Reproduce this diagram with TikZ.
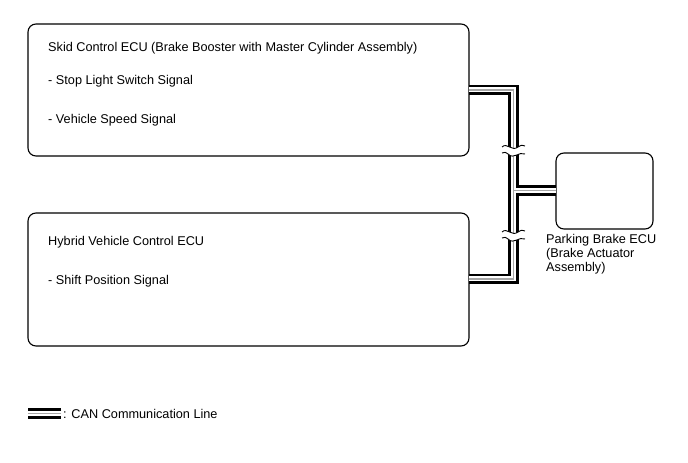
\documentclass[tikz,border=0pt]{standalone}
\usepackage{fontspec}
\setmainfont{Liberation Sans}
\begin{document}
\begin{tikzpicture}[x=1bp,y=-1bp,
  ecubox/.style={draw=black,line width=1.1bp,rounded corners=8bp},
  lbl/.style={anchor=west,inner sep=0,font=\fontsize{12.7bp}{14bp}\selectfont},
  canblack/.style={draw=black,line width=10.5bp},
  canwhite/.style={draw=white,line width=5bp},
  cangray/.style={draw=gray!70,line width=1.6bp}]
\useasboundingbox (0,0) rectangle (688,463);
% boxes
\draw[ecubox] (28,24) rectangle (469,156);
\draw[ecubox] (28,213) rectangle (469,346);
\draw[ecubox] (556,153) rectangle (653,229);
\coordinate (a) at (469,90);
\coordinate (b) at (513.3,90);
\coordinate (c) at (513.3,279);
\coordinate (d) at (469,279);
\coordinate (j) at (513.3,190.7);
\coordinate (p) at (556,190.7);
% CAN bundle in three layers
\foreach \s in {canblack,canwhite,cangray}{
  \draw[\s] (a) -- (b) -- (c) -- (d);
  \draw[\s] (j) -- (p);
}
% break marks
\foreach \y in {150,235}{
  \fill[white] (502,\y-3) .. controls (507,\y-8) and (512,\y+2) .. (518,\y-3) .. controls (521,\y-5) .. (525,\y-4)
     -- (525,\y+4) .. controls (519,\y+1) and (514,\y+10) .. (508,\y+4) .. controls (505,\y+2) .. (502,\y+3) -- cycle;
  \draw[line width=0.9bp] (502,\y-3) .. controls (507,\y-8) and (512,\y+2) .. (518,\y-3) .. controls (521,\y-5) .. (525,\y-4);
  \draw[line width=0.9bp] (502,\y+3) .. controls (505,\y+2) .. (508,\y+4) .. controls (514,\y+10) and (519,\y+1) .. (525,\y+4);
}
% texts
\node[lbl] (t1) at (48,48.5) {Skid Control ECU (Brake Booster with Master Cylinder Assembly)};
\node[lbl] (t2) at (48,81.5) {- Stop Light Switch Signal};
\node[lbl] (t3) at (48,120.5) {- Vehicle Speed Signal};
\node[lbl] (t4) at (48,242.5) {Hybrid Vehicle Control ECU};
\node[lbl] (t5) at (48,281.5) {- Shift Position Signal};
\node[lbl,anchor=north west,align=left,font=\fontsize{12.7bp}{14bp}\selectfont] (t6) at (546,234.5) {Parking Brake ECU\\(Brake Actuator\\Assembly)};
% legend
\coordinate (l1) at (28,413.5);
\coordinate (l2) at (61,413.5);
\foreach \s in {canblack,canwhite,cangray}{\draw[\s] (l1) -- (l2);}
\node[lbl] (t7) at (63,414) {: CAN Communication Line};
\end{tikzpicture}
\end{document}
